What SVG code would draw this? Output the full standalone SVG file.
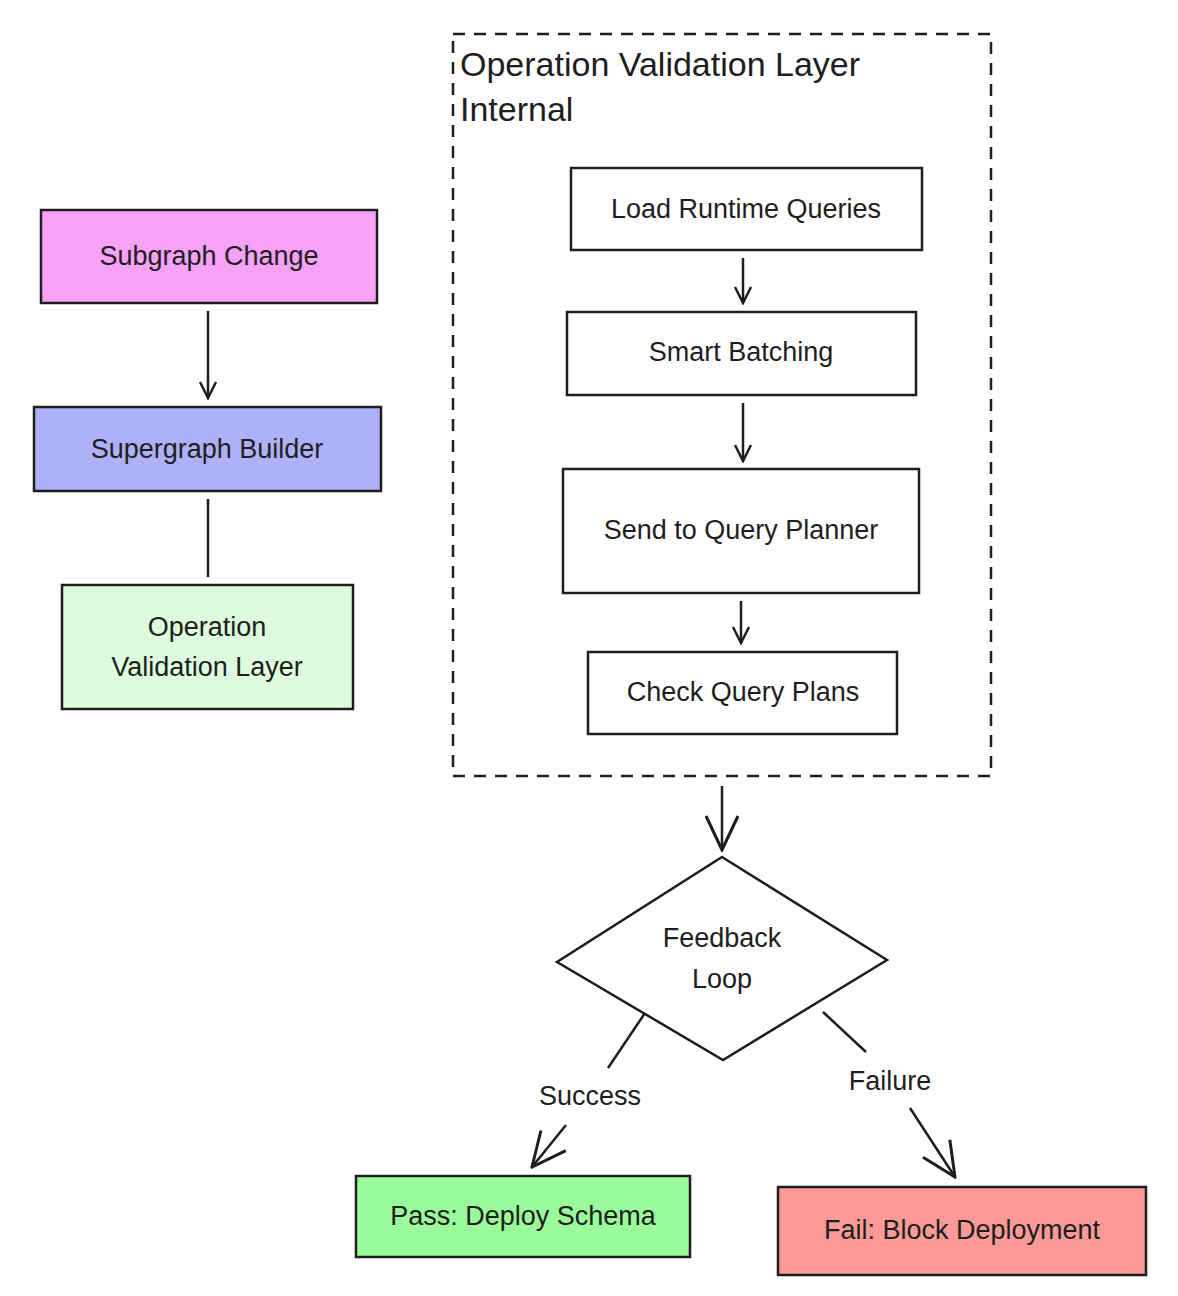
<svg xmlns="http://www.w3.org/2000/svg" width="1178" height="1296" viewBox="0 0 1178 1296">
<defs>
<marker id="ah" viewBox="0 0 20 20" refX="18" refY="10" markerWidth="20" markerHeight="20" markerUnits="userSpaceOnUse" orient="auto">
<path d="M2,2 L18,10 L2,18" fill="none" stroke="#1e1e1e" stroke-width="2.5"/>
</marker>
<marker id="ahb" viewBox="0 0 40 40" refX="38" refY="20" markerWidth="40" markerHeight="40" markerUnits="userSpaceOnUse" orient="auto">
<path d="M4,4 L38,20 L4,36" fill="none" stroke="#1e1e1e" stroke-width="3"/>
</marker>
<style>
.n{stroke:#1e1e1e;stroke-width:2.5}
.t{font-family:"Liberation Sans",sans-serif;font-size:27px;fill:#1e1e1e;text-anchor:middle}
.c{stroke:#1e1e1e;stroke-width:2.5;fill:none}
</style>
</defs>
<rect width="1178" height="1296" fill="#fff"/>
<g id="cluster">
<rect x="453" y="34" width="538" height="742" fill="none" stroke="#1e1e1e" stroke-width="2.5" stroke-dasharray="12 9"/>
<text x="460" y="76" font-family="Liberation Sans,sans-serif" font-size="34" fill="#1e1e1e">Operation Validation Layer</text>
<text x="460" y="121" font-family="Liberation Sans,sans-serif" font-size="34" fill="#1e1e1e">Internal</text>
</g>
<g id="subgraph"><rect class="n" x="41" y="210" width="336" height="93" fill="#f7a1f7"/><text class="t" x="209" y="265">Subgraph Change</text></g>
<g id="supergraph"><rect class="n" x="34" y="407" width="347" height="84" fill="#afb0fa"/><text class="t" x="207" y="458">Supergraph Builder</text></g>
<g id="ovl"><rect class="n" x="62" y="585" width="291" height="124" fill="#ddfbdd"/><text class="t" x="207" y="636">Operation</text><text class="t" x="207" y="676">Validation Layer</text></g>
<g id="load"><rect class="n" x="571" y="168" width="351" height="82" fill="#fff"/><text class="t" x="746" y="218">Load Runtime Queries</text></g>
<g id="batch"><rect class="n" x="567" y="312" width="349" height="83" fill="#fff"/><text class="t" x="741" y="361">Smart Batching</text></g>
<g id="send"><rect class="n" x="563" y="469" width="356" height="124" fill="#fff"/><text class="t" x="741" y="539">Send to Query Planner</text></g>
<g id="check"><rect class="n" x="588" y="652" width="309" height="82" fill="#fff"/><text class="t" x="743" y="701">Check Query Plans</text></g>
<g id="feedback"><polygon class="n" points="722,857 887,960 723,1060 557,962" fill="#fff"/><text class="t" x="722" y="947" font-size="29">Feedback</text><text class="t" x="722" y="988" font-size="29">Loop</text></g>
<g id="pass"><rect class="n" x="356" y="1176" width="334" height="81" fill="#99fb99"/><text class="t" x="523" y="1225">Pass: Deploy Schema</text></g>
<g id="fail"><rect class="n" x="778" y="1187" width="368" height="88" fill="#fb9a96"/><text class="t" x="962" y="1239">Fail: Block Deployment</text></g>
<g id="connectors">
<line class="c" x1="208" y1="311" x2="208" y2="398" marker-end="url(#ah)"/>
<line class="c" x1="208" y1="499" x2="208" y2="577"/>
<line class="c" x1="743" y1="258" x2="743" y2="303" marker-end="url(#ah)"/>
<line class="c" x1="743" y1="403" x2="743" y2="461" marker-end="url(#ah)"/>
<line class="c" x1="741" y1="601" x2="741" y2="643" marker-end="url(#ah)"/>
<line class="c" x1="722" y1="786" x2="722" y2="850" marker-end="url(#ahb)"/>
<line class="c" x1="645" y1="1013" x2="608" y2="1068"/>
<line class="c" x1="566" y1="1125" x2="532" y2="1167" marker-end="url(#ahb)"/>
<line class="c" x1="823" y1="1012" x2="866" y2="1052"/>
<line class="c" x1="910" y1="1108" x2="955" y2="1177" marker-end="url(#ahb)"/>
<text class="t" x="590" y="1105" font-size="30">Success</text>
<text class="t" x="890" y="1090" font-size="30">Failure</text>
</g>
</svg>
